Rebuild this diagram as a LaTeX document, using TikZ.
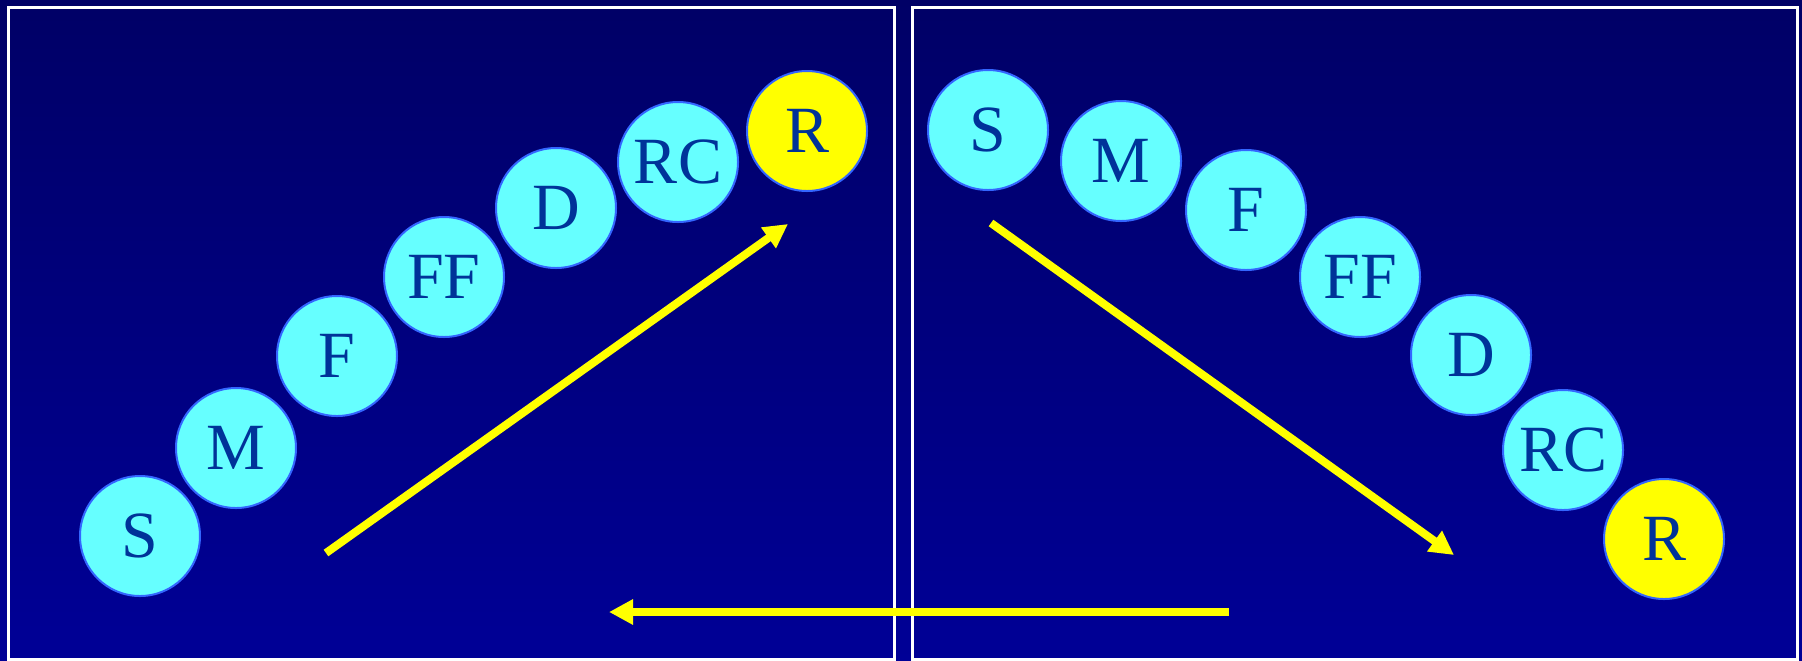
\documentclass[tikz,border=0pt]{standalone}
\usepackage{fontspec}
\setmainfont{Liberation Serif}
\usetikzlibrary{arrows.meta}
\definecolor{bgtop}{RGB}{0,0,102}
\definecolor{bgbot}{RGB}{0,0,150}
\definecolor{ballcyan}{RGB}{102,255,255}
\definecolor{ballrim}{RGB}{51,102,255}
\definecolor{balltext}{RGB}{0,51,153}
\definecolor{pathyellow}{RGB}{255,255,0}

\begin{document}
\begin{tikzpicture}[
  x=0.5pt, y=-0.5pt,
  panel/.style={draw=white, line width=1.6pt},
  stage/.style={circle, draw=ballrim, line width=1pt, fill=ballcyan,
    minimum size=60pt, inner sep=0pt, text=balltext,
    font=\fontsize{33}{36}\selectfont},
  goal/.style={stage, fill=pathyellow},
  flow/.style={draw=pathyellow, line width=4pt, -{Triangle[length=12pt, width=12pt]}}]
  \useasboundingbox (0,0) rectangle (1802,660);
  \shade[top color=bgtop, bottom color=bgbot] (0,0) rectangle (1802,660);
  \draw[panel] (8.5,7.5) rectangle (894.5,659.5);
  \draw[panel] (912.5,7.5) rectangle (1797.5,659.5);

  \node[stage] (lS)  at (140,536) {S};
  \node[stage] (lM)  at (236,448) {M};
  \node[stage] (lF)  at (337,356) {F};
  \node[stage] (lFF) at (444,277) {FF};
  \node[stage] (lD)  at (556,208) {D};
  \node[stage] (lRC) at (678,162) {RC};
  \node[goal]  (lR)  at (807,131) {R};

  \node[stage] (rS)  at (988,130) {S};
  \node[stage] (rM)  at (1121,161) {M};
  \node[stage] (rF)  at (1246,210) {F};
  \node[stage] (rFF) at (1360,277) {FF};
  \node[stage] (rD)  at (1471,355) {D};
  \node[stage] (rRC) at (1563,450) {RC};
  \node[goal]  (rR)  at (1664,539) {R};

  \coordinate (upfrom) at (326,553);
  \coordinate (upto) at (788,224);
  \coordinate (downfrom) at (991,223);
  \coordinate (downto) at (1454,555);
  \coordinate (backfrom) at (1229,612);
  \coordinate (backto) at (609,612);
  \draw[flow] (upfrom) -- (upto);
  \draw[flow] (downfrom) -- (downto);
  \draw[flow] (backfrom) -- (backto);
\end{tikzpicture}
\end{document}
